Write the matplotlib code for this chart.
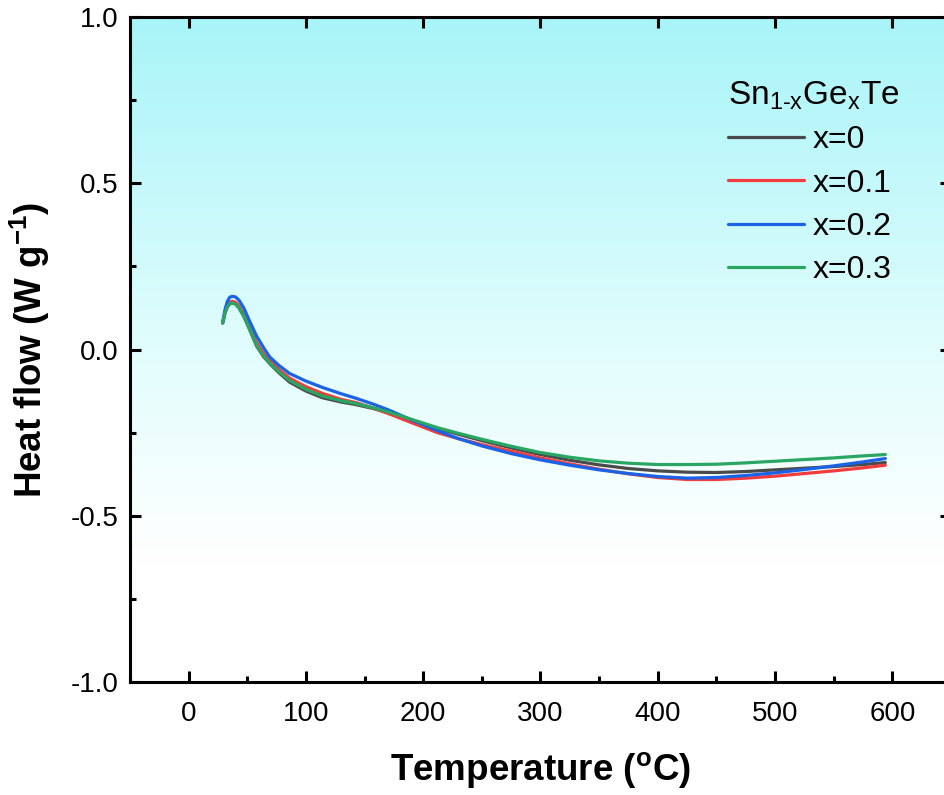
import numpy as np
import matplotlib
matplotlib.use("Agg")
import matplotlib.pyplot as plt
from matplotlib.colors import LinearSegmentedColormap
from matplotlib.ticker import MultipleLocator

plt.rcParams['font.family'] = ['Liberation Sans', 'DejaVu Sans']
plt.rcParams['mathtext.fontset'] = 'custom'
plt.rcParams['mathtext.rm'] = 'Liberation Sans'
plt.rcParams['mathtext.bf'] = 'Liberation Sans:bold'

# Data (temperature in °C, heat flow in W/g)
T_x0 = [29, 31, 33, 35, 37, 40, 43, 47, 52, 58, 64, 69, 77, 86, 100, 114, 130, 143, 158, 172, 190, 212, 230, 250, 275, 300, 325, 350, 375, 400, 425, 450, 475, 500, 525, 550, 575, 594]
hf_x0 = [0.08, 0.11, 0.128, 0.137, 0.14, 0.137, 0.125, 0.1, 0.06, 0.01, -0.022, -0.042, -0.07, -0.098, -0.125, -0.145, -0.158, -0.166, -0.178, -0.192, -0.212, -0.237, -0.255, -0.274, -0.296, -0.316, -0.333, -0.347, -0.358, -0.365, -0.369, -0.37, -0.367, -0.362, -0.357, -0.352, -0.346, -0.34]

T_x01 = T_x0
hf_x01 = [0.08, 0.112, 0.132, 0.142, 0.145, 0.142, 0.13, 0.105, 0.065, 0.02, -0.013, -0.033, -0.06, -0.086, -0.112, -0.132, -0.15, -0.16, -0.177, -0.195, -0.22, -0.25, -0.268, -0.286, -0.306, -0.326, -0.344, -0.36, -0.374, -0.385, -0.391, -0.391, -0.387, -0.381, -0.373, -0.365, -0.356, -0.348]

T_x02 = T_x0
hf_x02 = [0.08, 0.12, 0.145, 0.157, 0.16, 0.158, 0.148, 0.125, 0.085, 0.04, 0.005, -0.022, -0.048, -0.072, -0.095, -0.114, -0.133, -0.147, -0.165, -0.184, -0.212, -0.244, -0.268, -0.29, -0.313, -0.332, -0.348, -0.362, -0.373, -0.382, -0.387, -0.385, -0.379, -0.371, -0.361, -0.35, -0.338, -0.328]

T_x03 = T_x0
hf_x03 = [0.08, 0.11, 0.128, 0.137, 0.14, 0.137, 0.125, 0.1, 0.062, 0.012, -0.02, -0.04, -0.067, -0.093, -0.12, -0.14, -0.154, -0.163, -0.176, -0.19, -0.21, -0.235, -0.252, -0.27, -0.291, -0.31, -0.324, -0.335, -0.342, -0.346, -0.346, -0.345, -0.341, -0.336, -0.331, -0.326, -0.32, -0.316]

labels = ['x=0', 'x=0.1', 'x=0.2', 'x=0.3']
colors = ['#4a4a4a', '#f23b3b', '#1a62e6', '#2aa663']

fig = plt.figure(figsize=(9.45, 7.95), dpi=100)
W, H = 945, 795
ax_left, ax_right, ax_top, ax_bot = 130, 951, 17, 682
ax = fig.add_axes([ax_left / W, 1 - ax_bot / H, (ax_right - ax_left) / W, (ax_bot - ax_top) / H])

# background gradient (cyan at top to white at bottom)
cmap = LinearSegmentedColormap.from_list('bg', [(0.0, '#ffffff'), (0.18, '#ffffff'),
                                                (0.5, '#e2fdfd'), (1.0, '#a8f4f8')])
grad = np.linspace(0, 1, 256).reshape(-1, 1)
ax.imshow(grad, cmap=cmap, aspect='auto', origin='lower', extent=[0, 1, 0, 1],
          transform=ax.transAxes, zorder=0)

series = [(T_x0, hf_x0), (T_x01, hf_x01), (T_x02, hf_x02), (T_x03, hf_x03)]
order = [2, 1, 0, 3]
lines = {}
for i in order:
    t, h = series[i]
    ln, = ax.plot(t, h, color=colors[i], lw=2.3, label=labels[i], zorder=2 + i,
                  solid_capstyle='round')
    lines[i] = ln

ax.set_xlim(-50, 650)
ax.set_ylim(-1.0, 1.0)
ax.xaxis.set_major_locator(MultipleLocator(100))
ax.xaxis.set_minor_locator(MultipleLocator(50))
ax.yaxis.set_major_locator(MultipleLocator(0.5))
ax.yaxis.set_minor_locator(MultipleLocator(0.25))
ax.yaxis.set_major_formatter(matplotlib.ticker.FormatStrFormatter('%.1f'))

for s in ax.spines.values():
    s.set_linewidth(2.2)
ax.tick_params(which='major', direction='in', length=8, width=2.2, labelsize=20,
               top=True, right=True, pad=8)
ax.tick_params(which='minor', direction='in', length=4.5, width=2.2, top=False, right=False)
ax.tick_params(axis='x', pad=14)

ax.set_xlabel('Temperature ($\\mathregular{^oC}$)', fontsize=26.5, fontweight='bold', labelpad=16)
ax.set_ylabel('Heat flow (W g$\\mathregular{^{-1}}$)', fontsize=26.5, fontweight='bold', labelpad=14)

handles = [lines[i] for i in range(4)]
leg = ax.legend(handles, labels, title='Sn$_{\\text{1-x}}$Ge$_{\\text{x}}$Te',
                loc='upper left', bbox_to_anchor=((699 - ax_left) / (ax_right - ax_left), 0.95),
                frameon=False, fontsize=23, title_fontsize=24, handlelength=2.4,
                labelspacing=0.42, handletextpad=0.25, alignment='left')

fig.savefig('out.png', dpi=100)
